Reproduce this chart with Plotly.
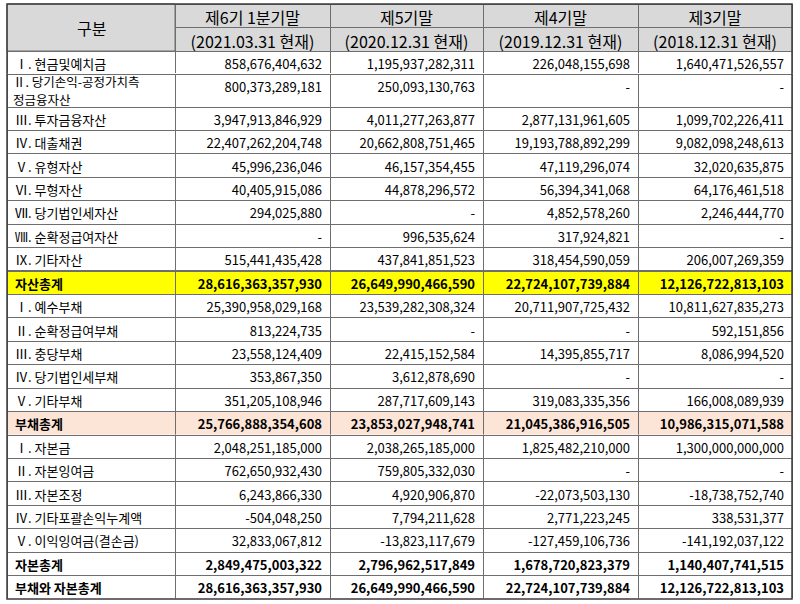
import plotly.graph_objects as go

# 재무상태표 (단위: 원)
labels = [
    "Ⅰ. 현금및예치금",
    "Ⅱ. 당기손익-공정가치측<br>정금융자산",
    "Ⅲ. 투자금융자산",
    "Ⅳ. 대출채권",
    "Ⅴ. 유형자산",
    "Ⅵ. 무형자산",
    "Ⅶ. 당기법인세자산",
    "Ⅷ. 순확정급여자산",
    "Ⅸ. 기타자산",
    "자산총계",
    "Ⅰ. 예수부채",
    "Ⅱ. 순확정급여부채",
    "Ⅲ. 충당부채",
    "Ⅳ. 당기법인세부채",
    "Ⅴ. 기타부채",
    "부채총계",
    "Ⅰ. 자본금",
    "Ⅱ. 자본잉여금",
    "Ⅲ. 자본조정",
    "Ⅳ. 기타포괄손익누계액",
    "Ⅴ. 이익잉여금(결손금)",
    "자본총계",
    "부채와 자본총계",
]

period_titles = ["제6기 1분기말", "제5기말", "제4기말", "제3기말"]
period_dates = ["(2021.03.31 현재)", "(2020.12.31 현재)", "(2019.12.31 현재)", "(2018.12.31 현재)"]

q1_2021 = [858676404632, 800373289181, 3947913846929, 22407262204748, 45996236046,
           40405915086, 294025880, None, 515441435428, 28616363357930,
           25390958029168, 813224735, 23558124409, 353867350, 351205108946,
           25766888354608, 2048251185000, 762650932430, 6243866330, -504048250,
           32833067812, 2849475003322, 28616363357930]

fy2020 = [1195937282311, 250093130763, 4011277263877, 20662808751465, 46157354455,
          44878296572, None, 996535624, 437841851523, 26649990466590,
          23539282308324, None, 22415152584, 3612878690, 287717609143,
          23853027948741, 2038265185000, 759805332030, 4920906870, 7794211628,
          -13823117679, 2796962517849, 26649990466590]

fy2019 = [226048155698, None, 2877131961605, 19193788892299, 47119296074,
          56394341068, 4852578260, 317924821, 318454590059, 22724107739884,
          20711907725432, None, 14395855717, None, 319083335356,
          21045386916505, 1825482210000, None, -22073503130, 2771223245,
          -127459106736, 1678720823379, 22724107739884]

fy2018 = [1640471526557, None, 1099702226411, 9082098248613, 32020635875,
          64176461518, 2246444770, None, 206007269359, 12126722813103,
          10811627835273, 592151856, 8086994520, None, 166008089939,
          10986315071588, 1300000000000, None, -18738752740, 338531377,
          -141192037122, 1140407741515, 12126722813103]

bold_rows = [9, 15, 21, 22]
row_colors = {9: "#ffff00", 15: "#fce4d6"}

W, H = 800, 604
left, right, top, bottom = 7, 792, 4, 599
colw = [168, 155, 153, 155, 154]
FONT = "Noto Sans CJK KR"
GRID = "#6e6e6e"
ALIGN = ["left", "right", "right", "right", "right"]

series = [q1_2021, fy2020, fy2019, fy2018]
cols = [["" if "<br>" in s else s for s in labels]]
for col in series:
    cols.append(["-" if v is None else f"{v:,}" for v in col])

# row heights in px (two header rows, then body rows)
hdr_h = 23.5
body_h = [23, 33] + [(bottom - 107) / (len(labels) - 2)] * (len(labels) - 2)
row_top = [top + 2 * hdr_h]
for h in body_h[:-1]:
    row_top.append(row_top[-1] + h)


def py(px):
    return 1 - px / H


def segment(rows, header=None):
    # one table trace for a run of rows sharing height and weight
    i0 = rows[0]
    h = body_h[i0]
    y0 = row_top[i0]
    y1 = y0 + h * len(rows)
    weight = "bold" if i0 in bold_rows else "normal"
    fill = row_colors.get(i0, "white")
    font = dict(family=FONT, size=13, color="black", weight=weight)
    line = dict(color=GRID, width=1)
    vals = [[c[i] for i in rows] for c in cols]
    if header is not None:
        y0 = top
        hd = dict(values=header, fill_color="#d9d9d9", line=line, align="center",
                  font=dict(family=FONT, size=16, color="black"), height=hdr_h)
        cells_vals = vals
    else:
        # the first row of the run serves as the table header
        hd = dict(values=[[v[0]] for v in vals], fill_color=fill, line=line,
                  align=ALIGN, font=font, height=h)
        cells_vals = [v[1:] for v in vals]
    return go.Table(
        domain=dict(x=[left / W, right / W], y=[py(y1), py(y0)]),
        columnwidth=colw,
        header=hd,
        cells=dict(values=cells_vals, fill_color=fill, line=line,
                   align=ALIGN, font=font, height=h),
    )


hdr = [["", ""]] + [[t, d] for t, d in zip(period_titles, period_dates)]
runs = [[0], [1], list(range(2, 9)), [9], list(range(10, 15)), [15],
        list(range(16, 21)), [21, 22]]

fig = go.Figure()
for k, r in enumerate(runs):
    fig.add_trace(segment(r, header=hdr if k == 0 else None))

# 구분 header cell spans both header rows
x_lab = left + colw[0] * (right - left) / sum(colw)
fig.add_shape(type="rect", xref="paper", yref="paper",
              x0=left / W, x1=x_lab / W, y0=py(top + 2 * hdr_h), y1=py(top),
              fillcolor="#d9d9d9", line=dict(color=GRID, width=1))
fig.add_annotation(text="구분", xref="paper", yref="paper",
                   x=(left + x_lab) / 2 / W, y=py(top + hdr_h),
                   xanchor="center", yanchor="middle", showarrow=False,
                   font=dict(family=FONT, size=16, color="black"))
# two-line label of row 2, one annotation per line
mid = row_top[1] + body_h[1] / 2
for k, part in enumerate(labels[1].split("<br>")):
    fig.add_annotation(text=part, xref="paper", yref="paper",
                       x=(left + 5) / W, y=py(mid - 9.25 + 18.5 * k),
                       xanchor="left", yanchor="middle", showarrow=False,
                       borderpad=0,
                       font=dict(family=FONT, size=12.5, color="black"))
# outer border
fig.add_shape(type="rect", xref="paper", yref="paper",
              x0=left / W, x1=right / W, y0=py(bottom), y1=py(top),
              line=dict(color="#3c3c3c", width=1.5))

fig.update_layout(width=W, height=H, margin=dict(l=0, r=0, t=0, b=0),
                  paper_bgcolor="white")
fig.write_html("out.html", config={"displayModeBar": False},
               post_script="document.body.style.margin='0';"
                           "document.body.style.overflow='hidden';")
